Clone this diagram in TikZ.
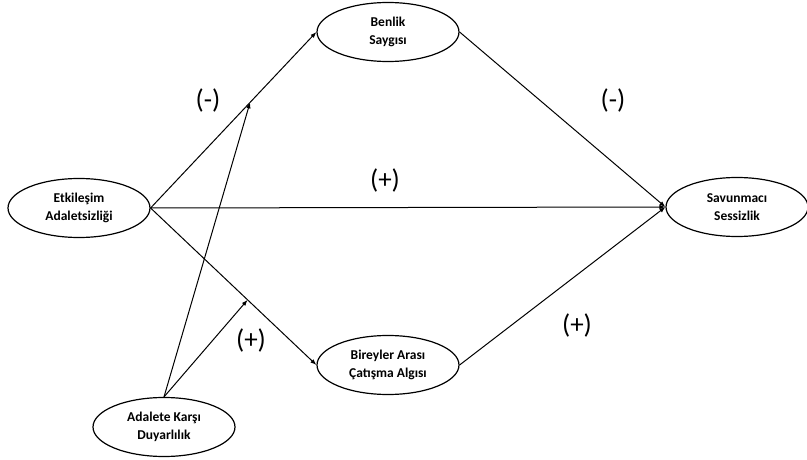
\documentclass[tikz,border=0pt]{standalone}
\usepackage{fontspec}
\setmainfont{Carlito}
\usetikzlibrary{shapes.geometric,arrows.meta,calc}
\tikzset{
  var/.style={draw, ellipse, line width=1.2pt, minimum width=142pt,
    minimum height=59pt, inner sep=0pt, align=center,
    font=\fontsize{13.5}{18}\selectfont\bfseries},
  sign/.style={font=\fontsize{27}{32}\selectfont},
}
\begin{document}
\begin{tikzpicture}[x=1pt, y=-1pt]
      \useasboundingbox (0,0) rectangle (807,460);
      \node[var] (etk) at (79,208) {Etkileşim\\Adaletsizliği};
      \node[var] (benlik) at (388,32) {Benlik\\Saygısı};
      \node[var] (sav) at (737,207) {Savunmacı\\Sessizlik};
      \node[var] (cat) at (388,365) {Bireyler Arası\\Çatışma Algısı};
      \node[var] (dua) at (164,427) {Adalete Karşı\\Duyarlılık};
      \coordinate (m1) at ($(etk.east)!0.6!(benlik.west)$);
      \coordinate (m2) at ($(etk.east)!0.585!(cat.west)$);
      \begin{scope}[-{Latex[length=6pt,width=4.5pt]}, line width=1pt]
        \draw (etk.east) to (benlik.west);
        \draw (etk.east) to (sav.west);
        \draw (etk.east) to (cat.west);
        \draw (benlik.east) to (sav.west);
        \draw (cat.east) to (sav.west);
        \draw (dua.north) to (m1);
        \draw (dua.north) to (m2);
      \end{scope}
      \node[sign] (s1) at (208,100) {(-)};
      \node[sign] (s2) at (385,180) {(+)};
      \node[sign] (s3) at (613,100) {(-)};
      \node[sign] (s4) at (251,340) {(+)};
      \node[sign] (s5) at (577,325) {(+)};
    \end{tikzpicture}
\end{document}
